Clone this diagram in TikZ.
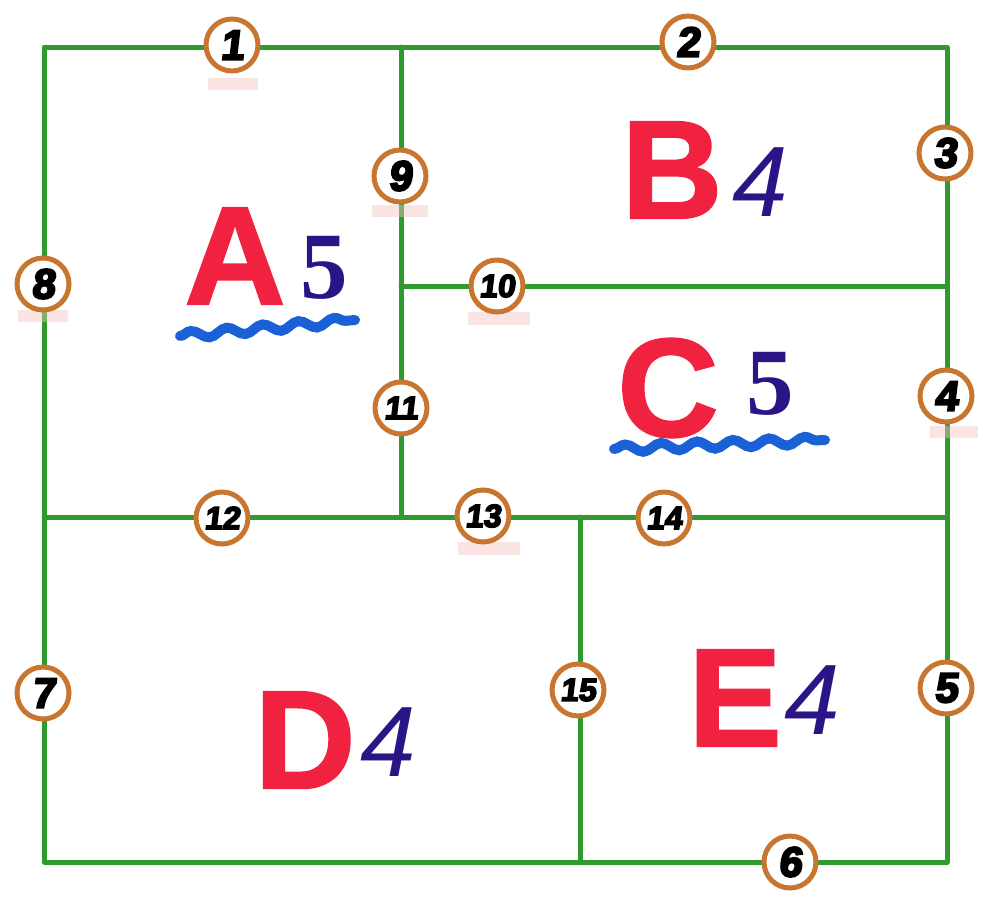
\documentclass[tikz,border=0pt]{standalone}
\usepackage{fontspec}
\setmainfont{Liberation Serif}
\setsansfont{Liberation Sans}
\newfontfamily\doorfont{Liberation Sans}[FakeSlant=0.12,BoldFeatures={FakeBold=5,FakeSlant=0.12}]
\newfontfamily\letterfont{Liberation Sans}[FakeBold=1.5]
\usetikzlibrary{decorations.pathmorphing}
\definecolor{wallgreen}{HTML}{2F9B2F}
\definecolor{ringorange}{HTML}{C8762F}
\definecolor{letred}{HTML}{F0223F}
\definecolor{numnavy}{HTML}{2B1486}
\definecolor{waveblue}{HTML}{1A60D6}
\definecolor{smudge}{HTML}{F2C4C0}
\begin{document}
\begin{tikzpicture}[x=1pt,y=-1pt,
  wall/.style={draw=wallgreen,line width=5pt,line cap=round,line join=round},
  door/.style={circle,draw=ringorange,line width=5pt,fill=white,minimum size=52pt,inner sep=0pt,
    font=\fontsize{42}{42}\selectfont\doorfont\bfseries},
  doortwo/.style={door,font=\fontsize{32}{32}\selectfont\doorfont\bfseries},
  smudgebar/.style={fill=smudge,opacity=0.45},
  roomletter/.style={inner sep=0pt,text=letred,font=\fontsize{140}{140}\selectfont\letterfont\bfseries},
  roomfive/.style={inner sep=0pt,text=numnavy,font=\fontsize{95}{95}\selectfont\bfseries},
  roomfour/.style={inner sep=0pt,text=numnavy,font=\fontsize{100}{100}\selectfont\sffamily\itshape},
  wave/.style={draw=waveblue,line width=10pt,line cap=round,decorate,
    decoration={snake,segment length=36pt,amplitude=4pt}}]
\useasboundingbox (0,0) rectangle (983,903);
% corners
\coordinate (tl) at (44,47);
\coordinate (tm) at (401,47);
\coordinate (tr) at (947,47);
\coordinate (bl) at (44,862);
\coordinate (bm) at (580,862);
\coordinate (br) at (947,862);
\coordinate (ml) at (44,517);
\coordinate (mc) at (401,517);
\coordinate (mm) at (580,517);
\coordinate (mr) at (947,517);
\coordinate (hl) at (401,286);
\coordinate (hr) at (947,286);
% walls
\draw[wall] (tl) -- (tr) -- (br) -- (bl) -- cycle;
\draw[wall] (tm) -- (mc);
\draw[wall] (hl) -- (hr);
\draw[wall] (ml) -- (mr);
\draw[wall] (mm) -- (bm);
% pink smudges
\fill[smudgebar] (208,78) rectangle (258,90);
\fill[smudgebar] (18,310) rectangle (68,322);
\fill[smudgebar] (372,205) rectangle (428,217);
\fill[smudgebar] (468,312) rectangle (530,325);
\fill[smudgebar] (458,542) rectangle (520,555);
\fill[smudgebar] (930,426) rectangle (978,438);
% doors
\node[door] (d1) at (232,45) {1};
\node[door] (d2) at (688,42) {2};
\node[door] (d3) at (945,153) {3};
\node[door] (d4) at (946,396) {4};
\node[door] (d5) at (946,688) {5};
\node[door] (d6) at (790,862) {6};
\node[door] (d7) at (43,693) {7};
\node[door] (d8) at (43,284) {8};
\node[door] (d9) at (400,176) {9};
\node[doortwo] (d10) at (497,286) {10};
\node[doortwo] (d11) at (401,408) {11};
\node[doortwo] (d12) at (222,518) {12};
\node[doortwo] (d13) at (483,516) {13};
\node[doortwo] (d14) at (664,518) {14};
\node[doortwo] (d15) at (578,690) {15};
% rooms
\node[roomletter] (la) at (235,256) {A};
\node[roomfive] (na) at (324,268) {5};
\draw[wave] (180,336) -- (355,320);
\node[roomletter] (lb) at (672,170) {B};
\node[roomfour] (nb) at (760,182) {4};
\node[roomletter] (lc) at (668,388) {C};
\node[roomfive] (nc) at (770,384) {5};
\draw[wave] (614,449) -- (825,440);
\node[roomletter] (ld) at (305,740) {D};
\node[roomfour] (nd) at (388,742) {4};
\node[roomletter] (le) at (735,698) {E};
\node[roomfour] (ne) at (812,700) {4};
\end{tikzpicture}
\end{document}
